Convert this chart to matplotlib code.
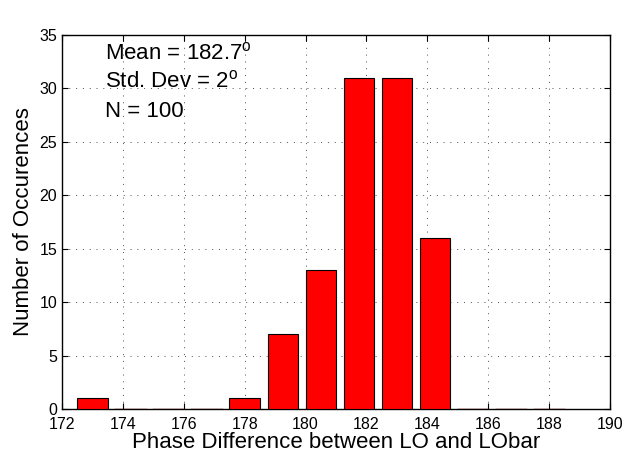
import numpy as np
import matplotlib
matplotlib.use('Agg')
import matplotlib.pyplot as plt

# histogram bins (centres) and counts
bin_centres = [173.0, 174.25, 175.5, 176.75, 178.0, 179.25, 180.5, 181.75,
               183.0, 184.25, 185.5, 186.75, 188.0]
counts = [1, 0, 0, 0, 1, 7, 13, 31, 31, 16, 0, 0, 0]
stats_lines = [r'Mean = 182.7$^{\rm o}$', r'Std. Dev = 2$^{\rm o}$', 'N = 100']

plt.rcParams['font.family'] = ['Liberation Sans', 'DejaVu Sans']
plt.rcParams['mathtext.fontset'] = 'custom'
plt.rcParams['mathtext.rm'] = 'Liberation Sans'

fig = plt.figure(figsize=(6.24, 4.59), dpi=100)
ax = fig.add_axes([62/624, 1-409/459, 548/624, 374/459])

x = np.array(bin_centres)
y = np.array(counts)
nz = y > 0
ax.bar(x[nz], y[nz], width=1.0, color='#ff0000', edgecolor='black', linewidth=0.8, zorder=3)
# empty bins show up as a flat line on the axis
for xc in x[~nz]:
    ax.plot([xc-0.5, xc+0.5], [0, 0], color='#800000', lw=1.0, zorder=3)

ax.set_xlim(172, 190)
ax.set_ylim(0, 35)
ax.set_xticks(np.arange(172, 191, 2))
ax.set_yticks(np.arange(0, 36, 5))
ax.grid(True, linestyle=(0, (1, 6)), color='0.3', linewidth=0.7)
ax.tick_params(direction='in', labelsize=11.5, length=4, width=0.8, top=True, right=True)
ax.tick_params(axis='x', pad=6)
for s in ax.spines.values():
    s.set_linewidth(1.0)

ax.set_xlabel('Phase Difference between LO and LObar', fontsize=16, labelpad=0)
ax.set_ylabel('Number of Occurences', fontsize=16, labelpad=4)

for i, line in enumerate(stats_lines):
    ax.text(173.41, 32.75 - i*2.7, line, fontsize=16, va='baseline', ha='left')

fig.savefig('out.png', dpi=100)
